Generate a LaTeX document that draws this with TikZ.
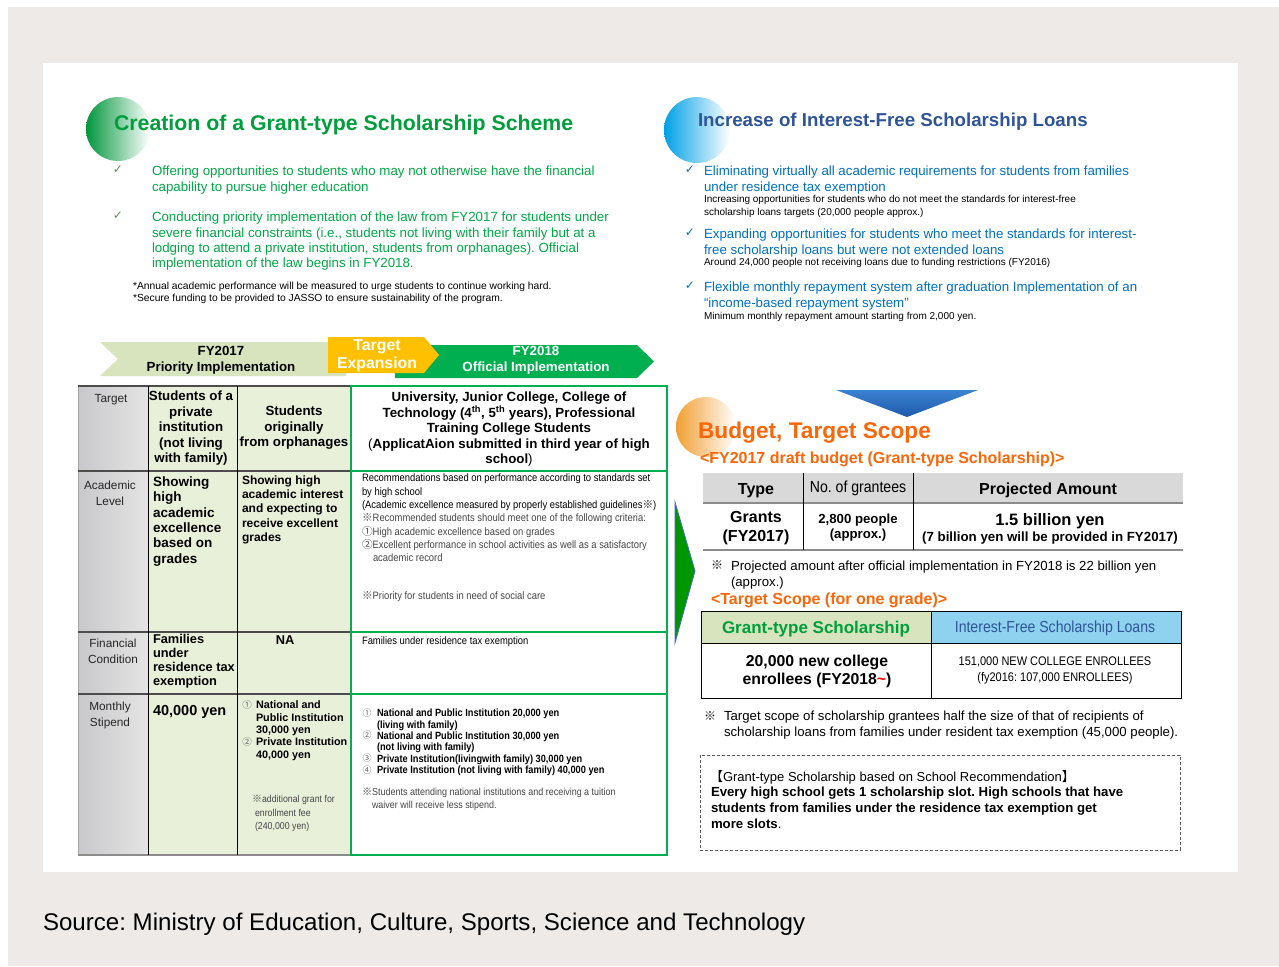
\documentclass[tikz,border=0pt]{standalone}
\usepackage{fontspec}
\setmainfont{Liberation Sans}
\newfontfamily\nar[FakeStretch=0.88]{Liberation Sans}
\newfontfamily\cjk{Noto Sans CJK JP}
\newfontfamily\dvs{DejaVu Sans}
\newcommand\fsz[2]{\fontsize{#1}{#2}\selectfont}
\newcommand\refm{{\cjk ※}}
\newcommand\cOne{{\cjk ①}}
\newcommand\cTwo{{\cjk ②}}
\newcommand\cThree{{\cjk ③}}
\newcommand\cFour{{\cjk ④}}
\frenchspacing
\definecolor{bgGray}{RGB}{237,234,232}
\definecolor{ttlGreen}{RGB}{0,158,60}
\definecolor{txtGreen}{RGB}{0,168,70}
\definecolor{chkGreen}{RGB}{100,140,90}
\definecolor{ttlBlue}{RGB}{47,85,151}
\definecolor{txtBlue}{RGB}{0,112,192}
\definecolor{orng}{RGB}{250,102,10}
\definecolor{lgreen}{RGB}{215,228,189}
\definecolor{cellGreen}{RGB}{233,240,218}
\definecolor{tblGreen}{RGB}{0,176,80}
\definecolor{bannerGreen}{RGB}{0,176,80}
\definecolor{yel}{RGB}{255,192,0}
\definecolor{hdrGray}{RGB}{217,217,217}
\definecolor{lblue}{RGB}{142,210,240}
\definecolor{arrBlueA}{RGB}{60,130,210}
\definecolor{arrBlueB}{RGB}{30,90,170}
\definecolor{triGreen}{RGB}{0,150,0}
\definecolor{triEdge}{RGB}{70,110,200}
\definecolor{circGreen}{RGB}{0,150,60}
\definecolor{circBlue}{RGB}{0,160,230}
\definecolor{circOrange}{RGB}{240,160,50}
\definecolor{noteGray}{RGB}{70,70,70}
\definecolor{colGrayA}{RGB}{200,200,203}
\definecolor{colGrayB}{RGB}{228,228,228}
\begin{document}
\begin{tikzpicture}[x=1pt,y=-1pt,
  tx/.style={inner sep=0pt,outer sep=0pt,anchor=north west,align=left},
  tc/.style={inner sep=0pt,outer sep=0pt,anchor=north,align=center},
  tm/.style={inner sep=0pt,outer sep=0pt,anchor=center},
  gridk/.style={black,line width=0.8pt},
  gridd/.style={draw=black!70,line width=1.2pt},
  gridg/.style={draw=tblGreen,line width=1.5pt},
  chkL/.style={tm,text=chkGreen,font=\dvs\fsz{12}{14}},
  chkR/.style={tm,text=txtBlue,font=\dvs\fsz{12}{14}},
  bulG/.style={tx,text=txtGreen,font=\fsz{13.3}{15.4}},
  bulB/.style={tx,text=txtBlue,font=\fsz{13.3}{16}},
  smallK/.style={tx,text=black,font=\fsz{10}{13}},
  rowhead/.style={tc,text=black!85,font=\fsz{11.8}{16}},
  narsm/.style={tx,text=black,font=\nar\fsz{10.7}{13.3}},
  orngT/.style={tx,text=orng,font=\bfseries\fsz{16}{19}}]
\useasboundingbox (0,0) rectangle (1279,966);
\fill[white] (0,0) rectangle (1279,966);
\fill[bgGray] (8,7) rectangle (1279,966);
\fill[white] (43,63) rectangle (1238,872);

% ---------- left heading ----------
\shade[left color=circGreen, right color=white] (118,129) circle (32);
\node[tx,text=ttlGreen,font=\bfseries\fsz{21.3}{25}] (t1) at (114,115.5) {Creation of a Grant-type Scholarship Scheme};
\node[chkL] (c1) at (118,170) {✓};
\node[chkL] (c2) at (118,216) {✓};
\node[bulG] (b1) at (152,166.1) {Offering opportunities to students who may not otherwise have the financial\\capability to pursue higher education};
\node[bulG] (b2) at (152,212.1) {Conducting priority implementation of the law from FY2017 for students under\\severe financial constraints (i.e., students not living with their family but at a\\lodging to attend a private institution, students from orphanages). Official\\implementation of the law begins in FY2018.};
\node[tx,font=\fsz{10.3}{12}] (fn) at (133,282.2) {*Annual academic performance will be measured to urge students to continue working hard.\\*Secure funding to be provided to JASSO to ensure sustainability of the program.};

% ---------- right heading ----------
\shade[left color=circBlue, right color=white] (697,130) circle (33);
\node[tx,text=ttlBlue,font=\bfseries\fsz{18.7}{22}] (t2) at (698,113.1) {Increase of Interest-Free Scholarship Loans};
\node[chkR] (c3) at (690,170) {✓};
\node[chkR] (c4) at (690,233) {✓};
\node[chkR] (c5) at (690,286) {✓};
\node[bulB] (r1) at (704,165.6) {Eliminating virtually all academic requirements for students from families\\under residence tax exemption};
\node[smallK] (r1s) at (704,195.3) {Increasing opportunities for students who do not meet the standards for interest-free\\scholarship loans targets (20,000 people approx.)};
\node[bulB] (r2) at (704,228.6) {Expanding opportunities for students who meet the standards for interest-\\free scholarship loans but were not extended loans};
\node[smallK] (r2s) at (704,258.3) {Around 24,000 people not receiving loans due to funding restrictions (FY2016)};
\node[bulB] (r3) at (704,281.6) {Flexible monthly repayment system after graduation Implementation of an\\“income-based repayment system”};
\node[smallK] (r3s) at (704,312.3) {Minimum monthly repayment amount starting from 2,000 yen.};

% ---------- banner ----------
\fill[lgreen] (100,342) -- (346,342) -- (346,376) -- (100,376) -- (118,359) -- cycle;
\fill[bannerGreen] (395,345) -- (637,345) -- (654,361.5) -- (637,378) -- (395,378) -- cycle;
\fill[yel] (328,337) -- (424,337) -- (439,355) -- (424,373) -- (328,373) -- cycle;
\node[tc,font=\bfseries\fsz{13.3}{16}] (ban1) at (221,346.1) {FY2017\\Priority Implementation};
\node[tc,text=white,font=\bfseries\fsz{15.8}{18}] (ban2) at (377,339.2) {Target\\Expansion};
\node[tc,text=white,font=\bfseries\fsz{13.3}{16}] (ban3) at (536,346.1) {FY2018\\Official Implementation};

% ---------- left table ----------
\shade[left color=colGrayA, right color=colGrayB] (78,386) rectangle (148,855);
\fill[cellGreen] (148,386) rectangle (351,855);
\draw[black!35,line width=0.6pt] (78,386) -- (78,855);
\draw[gridd] (78,386) -- (351,386);
\draw[draw=black!45,line width=2pt] (78,855) -- (351,855);
\draw[gridd] (78,471) -- (351,471);
\draw[gridd] (78,632) -- (351,632);
\draw[gridd] (78,694) -- (351,694);
\draw[gridk] (148,386) -- (148,855);
\draw[gridk] (237,386) -- (237,855);
\fill[white] (351,386) rectangle (667,855);
\draw[gridg] (351,386) rectangle (667,855);
\draw[gridg] (351,471) -- (667,471);
\draw[gridg] (351,632) -- (667,632);
\draw[gridg] (351,694) -- (667,694);

% row 1
\node[rowhead] (h1) at (111,394.6) {Target};
\node[tc,font=\bfseries\fsz{13.3}{15.5}] (a1) at (191,391.1) {Students of a\\private\\institution\\(not living\\with family)};
\node[tc,font=\bfseries\fsz{13.3}{15.5}] (a2) at (294,406.1) {Students\\originally\\from orphanages};
\node[tc,font=\bfseries\fsz{13.3}{15.5}] (a3) at (509,392.1) {University, Junior College, College of\\Technology (4\textsuperscript{th}, 5\textsuperscript{th} years), Professional\\Training College Students\\{\mdseries(}ApplicatAion submitted in third year of high\\school{\mdseries)}};

% row 2
\node[rowhead] (h2) at (110,480.6) {Academic\\Level};
\node[tx,font=\bfseries\fsz{13.5}{15.4}] (b21) at (153,476.5) {Showing\\high\\academic\\excellence\\based on\\grades};
\node[tx,font=\bfseries\fsz{12}{14.3}] (b22) at (242,475.6) {Showing high\\academic interest\\and expecting to\\receive excellent\\grades};
\node[narsm] (b23) at (362,474) {Recommendations based on performance according to standards set\\by high school\\(Academic excellence measured by properly established guidelines\refm)};
\node[narsm,text=noteGray] (b24) at (362,513.9) {\refm Recommended students should meet one of the following criteria:\\\cOne High academic excellence based on grades\\\cTwo Excellent performance in school activities as well as a satisfactory\\\hspace*{11pt}academic record};
\node[narsm,text=noteGray] (b25) at (362,592) {\refm Priority for students in need of social care};

% row 3
\node[rowhead] (h3) at (113,638.6) {Financial\\Condition};
\node[tx,font=\bfseries\fsz{12.8}{14.3}] (b31) at (153,633.8) {Families\\under\\residence tax\\exemption};
\node[tc,font=\bfseries\fsz{12.8}{14.3}] (b32) at (285,635.3) {NA};
\node[narsm] (b33) at (362,637) {Families under residence tax exemption};

% row 4
\node[rowhead] (h4) at (110,701.6) {Monthly\\Stipend};
\node[tx,font=\bfseries\fsz{14.5}{16}] (b41) at (153,705.6) {40,000 yen};
\node[tm,text=black!60,font=\cjk\fsz{9.5}{12}] (n41) at (247,705) {①};
\node[tm,text=black!60,font=\cjk\fsz{9.5}{12}] (n42) at (247,742) {②};
\node[tx,font=\bfseries\fsz{10.8}{12.3}] (b42) at (256,701) {National and\\Public Institution\\30,000 yen\\Private Institution\\40,000 yen};
\node[tx,text=noteGray,font=\nar\fsz{10}{13.5}] (b43) at (252,795.3) {\refm additional grant for\\\hspace*{3pt}enrollment fee\\\hspace*{3pt}(240,000 yen)};
\node[tm,text=black!60,font=\cjk\fsz{9}{11}] (n43) at (367,713) {①};
\node[tm,text=black!60,font=\cjk\fsz{9}{11}] (n44) at (367,735) {②};
\node[tm,text=black!60,font=\cjk\fsz{9}{11}] (n45) at (367,758) {③};
\node[tm,text=black!60,font=\cjk\fsz{9}{11}] (n46) at (367,770) {④};
\node[tx,font=\nar\bfseries\fsz{10.5}{11.4}] (b44) at (377,709.1) {National and Public Institution 20,000 yen\\(living with family)\\National and Public Institution 30,000 yen\\(not living with family)\\Private Institution(livingwith family) 30,000 yen\\Private Institution (not living with family) 40,000 yen};
\node[tx,text=noteGray,font=\nar\fsz{10.2}{13}] (b45) at (362,788.3) {\refm Students attending national institutions and receiving a tuition\\\hspace*{10pt}waiver will receive less stipend.};

% ---------- right: budget ----------
\shade[top color=arrBlueA, bottom color=arrBlueB] (836,390) -- (978,390) -- (907,417) -- cycle;
\shade[left color=circOrange, right color=white] (706,427) circle (30);
\filldraw[fill=triGreen,draw=triEdge,line width=0.8pt] (675,502) -- (695,571) -- (675,643) -- cycle;
\node[tx,text=orng,font=\bfseries\fsz{22.7}{26}] (t3) at (698,421.6) {Budget, Target Scope};
\node[orngT] (t4) at (700,452.1) {<FY2017 draft budget (Grant-type Scholarship)>};

\fill[hdrGray] (703,473) rectangle (1183,503);
\draw[draw=black!45,line width=1.5pt] (703,503) -- (1183,503);
\draw[draw=black!45,line width=2pt] (703,550) -- (1183,550);
\draw[gridk] (803,473) -- (803,550);
\draw[gridk] (913,473) -- (913,550);
\node[tc,font=\bfseries\fsz{16}{19}] (bt1) at (756,483.1) {Type};
\node[tc,font=\nar\fsz{16}{19}] (bt2) at (858,481.1) {No. of grantees};
\node[tc,font=\bfseries\fsz{16}{19}] (bt3) at (1048,483.1) {Projected Amount};
\node[tc,font=\bfseries\fsz{16}{19}] (bt4) at (756,511.1) {Grants\\(FY2017)};
\node[tc,font=\bfseries\fsz{13.2}{15}] (bt5) at (858,514.1) {2,800 people\\(approx.)};
\node[tc,font=\bfseries\fsz{16.5}{19}] (bt6) at (1050,513.9) {1.5 billion yen};
\node[tc,font=\bfseries\fsz{13.3}{15}] (bt7) at (1050,532.1) {(7 billion yen will be provided in FY2017)};
\node[tm,font=\cjk\fsz{12}{14}] (km1) at (717,565) {※};
\node[tx,font=\fsz{13.2}{16}] (nt1) at (731,560.6) {Projected amount after official implementation in FY2018 is 22 billion yen\\(approx.)};
\node[orngT] (t5) at (711,592.6) {<Target Scope (for one grade)>};

% target table
\fill[lgreen] (701,611) rectangle (931,643);
\fill[lblue] (931,611) rectangle (1181,643);
\draw[black,line width=0.8pt] (701,611) rectangle (1181,698);
\draw[black,line width=0.8pt] (701,643) -- (1181,643);
\draw[black,line width=0.8pt] (931,611) -- (931,698);
\node[tc,text=ttlGreen,font=\bfseries\fsz{17}{20}] (tt1) at (816,620.7) {Grant-type Scholarship};
\node[tc,text=ttlBlue,font=\nar\fsz{16}{19}] (tt2) at (1055,621.1) {Interest-Free Scholarship Loans};
\node[tc,font=\bfseries\fsz{15.8}{18}] (tt3) at (817,655.2) {20,000 new college\\enrollees (FY2018{\color{red}\textasciitilde})};
\node[tc,font=\nar\fsz{12.5}{16}] (tt4) at (1055,656.4) {151,000 NEW COLLEGE ENROLLEES\\(fy2016: 107,000 ENROLLEES)};
\node[tm,font=\cjk\fsz{12}{14}] (km2) at (710,716) {※};
\node[tx,font=\fsz{13.2}{16}] (nt2) at (724,711.1) {Target scope of scholarship grantees half the size of that of recipients of\\scholarship loans from families under resident tax exemption (45,000 people).};

% dashed box
\draw[black!65,line width=0.8pt,dash pattern=on 3pt off 2pt] (700,755) rectangle (1180,850);
\node[tx,font=\fsz{13}{16}] (db1) at (710,770.2) {{\cjk 【}Grant-type Scholarship based on School Recommendation{\cjk 】}};
\node[tx,font=\bfseries\fsz{13.2}{16}] (db2) at (711,786.6) {Every high school gets 1 scholarship slot. High schools that have\\students from families under the residence tax exemption get\\more slots{\mdseries.}};

% source
\node[tx,font=\fsz{24.1}{28}] (src) at (43,913.2) {Source: Ministry of Education, Culture, Sports, Science and Technology};
\end{tikzpicture}
\end{document}
